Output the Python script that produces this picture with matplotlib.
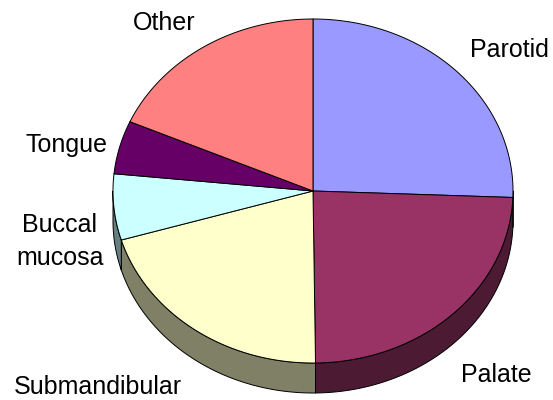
import numpy as np
import matplotlib
matplotlib.use("Agg")
import matplotlib.pyplot as plt
from matplotlib.patches import Polygon

# slice data, clockwise from 12 o'clock
labels = ["Parotid", "Palate", "Submandibular", "Buccal\nmucosa", "Tongue", "Other"]
values = [25.6, 24.2, 20.6, 6.2, 5.0, 18.4]
colors = ["#9999FF", "#993366", "#FFFFCC", "#CCFFFF", "#660066", "#FF8080"]

# label anchor (x centre, baseline y of first line) in pixel units
label_pos = [(509, 57), (496, 382), (98, 394), (60, 232), (67, 152), (164, 30)]

cx, cy = 313, 191      # centre of the top face
rx, ry = 200, 172      # radii of the top ellipse
depth = 30             # thickness of the pie
lw = 0.7


def arc(t0, t1, dy=0, n=200):
    t = np.radians(np.linspace(t0, t1, n))
    return np.column_stack([cx + rx * np.cos(t), cy - ry * np.sin(t) + dy])


def shade(hexcol, f=0.5):
    c = np.array(matplotlib.colors.to_rgb(hexcol))
    return tuple(c * f)


fig = plt.figure(figsize=(5.53, 4.0), dpi=100)
ax = fig.add_axes([0, 0, 1, 1])
ax.set_xlim(0, 553)
ax.set_ylim(400, 0)
ax.axis("off")

fracs = np.array(values) / np.sum(values)
ends = 90 - 360 * np.cumsum(fracs)
starts = np.concatenate([[90], ends[:-1]])

# side walls (only front half, angles 180..360)
for s, e, col in zip(starts, ends, colors):
    a, b = e % 360, s % 360
    if b <= a:
        b += 360
    lo, hi = max(a, 180), min(b, 360)
    if hi > lo:
        top = arc(lo, hi)
        bot = arc(hi, lo, depth)
        ax.add_patch(Polygon(np.vstack([top, bot]), closed=True,
                             facecolor=shade(col), edgecolor="black", lw=lw,
                             joinstyle="round"))

# top faces
for s, e, col in zip(starts, ends, colors):
    pts = np.vstack([[cx, cy], arc(s, e)])
    ax.add_patch(Polygon(pts, closed=True, facecolor=col, edgecolor="black",
                         lw=lw, joinstyle="round"))

# labels
for lab, (x, y) in zip(labels, label_pos):
    for k, line in enumerate(lab.split("\n")):
        ax.text(x, y + 33 * k, line, ha="center", va="baseline",
                fontsize=18, family="Liberation Sans", color="black")

fig.savefig("out.png", dpi=100)
